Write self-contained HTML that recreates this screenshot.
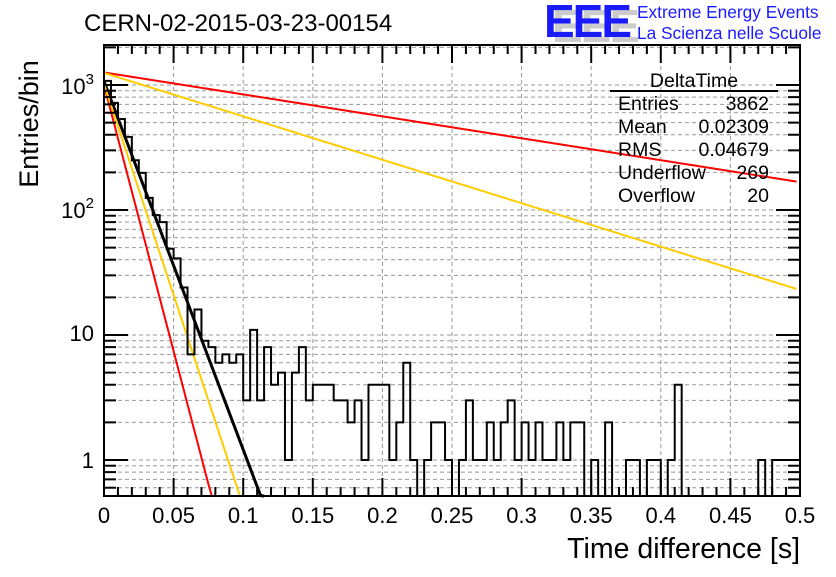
<!DOCTYPE html>
<html><head><meta charset="utf-8"><style>
body{margin:0;background:#fff;width:836px;height:572px;overflow:hidden}
svg text{font-family:"Liberation Sans",sans-serif}
</style></head><body>
<svg id="c" width="836" height="572" xmlns="http://www.w3.org/2000/svg"></svg>
<script>
const binWidth = 0.005;
const counts = [1080,720,535,385,250,198,125,91,80,49,41,24,7,16,9,8,6,7,6,7,3,11,3,8,4,
5,1,5,8,3,4,4,4,3,3,2,3,1,4,4,4,1,2,6,1,0,1,2,2,1,0,1,3,1,1,2,1,2,3,1,2,1,2,1,
1,2,1,2,2,0,1,0,2,0,0,1,1,0,1,1,0,1,4,0,0,0,0,0,0,0,0,0,0,0,1,0,1,1,1,1];
const fitAmp = [1070,1000,1020,1260,1250];
const fitTau = [0.01474,0.0102,0.01286,0.2475,0.125];
const fitColor = ['#000','#f00','#fc0','#f00','#fc0'];
const fitNames = ['fit-black','fit-red-steep','fit-yellow-steep','fit-red-shallow','fit-yellow-shallow'];
const xTicks = [0,0.05,0.1,0.15,0.2,0.25,0.3,0.35,0.4,0.45,0.5];
const xTickLabels = ['0','0.05','0.1','0.15','0.2','0.25','0.3','0.35','0.4','0.45','0.5'];

const L=104,R=800,T=45,B=496;
const sx=v=>L+(v/0.5)*(R-L);
const sy=v=>460-125*Math.log10(v);
const NS='http://www.w3.org/2000/svg';
const svg=document.getElementById('c');
function mk(tag,attrs,parent){const e=document.createElementNS(NS,tag);for(const k in attrs)e.setAttribute(k,attrs[k]);(parent||svg).appendChild(e);return e;}

const grid=mk('g',{stroke:'#999','stroke-dasharray':'4,3','stroke-width':1});


xTicks.slice(1,-1).forEach(v=>mk('line',{x1:sx(v),x2:sx(v),y1:T,y2:B},grid));
for(let d=-1;d<=3;d++)for(let m=1;m<10;m++){const v=m*Math.pow(10,d);const y=sy(v);if(y>T&&y<B)mk('line',{x1:L,x2:R,y1:y,y2:y},grid);}

fitAmp.forEach((A,i)=>{
  let pts=[];
  for(let t=0;t<=0.5;t+=0.0025){const v=A*Math.exp(-t/fitTau[i]);if(sy(v)>B){pts.push([sx(t),B]);break;}pts.push([sx(t),sy(v)]);}
  const p=mk('polyline',{points:pts.map(q=>q.join(',')).join(' '),fill:'none',stroke:fitColor[i],'stroke-width':i==0?3:2});
  
  
});

let d='';
counts.forEach((c,i)=>{const y=c>0?Math.min(sy(c),B):B;const x0=sx(i*binWidth),x1=sx((i+1)*binWidth);d+=(i==0?'M'+x0+','+y:'L'+x0+','+y)+'L'+x1+','+y;});
const h=mk('path',{d:d,fill:'none',stroke:'#000','stroke-width':2});



const fr=mk('rect',{x:L,y:T,width:R-L,height:B-T,fill:'none',stroke:'#000','stroke-width':2});


const tk=mk('g',{stroke:'#000','stroke-width':2});


for(let i=0;i<=50;i++){const x=sx(i*0.01);const len=(i%5==0)?18:9;mk('line',{x1:x,x2:x,y1:B,y2:B-len},tk);mk('line',{x1:x,x2:x,y1:T,y2:T+len},tk);}
for(let dd=-1;dd<=3;dd++)for(let m=1;m<10;m++){const v=m*Math.pow(10,dd);const y=sy(v);if(y>T&&y<B){const len=m==1?24:12;mk('line',{x1:L,x2:L+len,y1:y,y2:y},tk);mk('line',{x1:R,x2:R-len,y1:y,y2:y},tk);}}
xTicks.forEach((v,i)=>{const t=mk('text',{x:sx(v),y:523,'font-size':22,'text-anchor':'middle'});t.textContent=xTickLabels[i];

});
</script>
<svg width="836" height="572" style="position:absolute;left:0;top:0">
<text x="94" y="94" font-size="22" text-anchor="end">10<tspan dy="-10" font-size="15">3</tspan></text>
<text x="94" y="218" font-size="22" text-anchor="end">10<tspan dy="-10" font-size="15">2</tspan></text>
<text x="94" y="341" font-size="22" text-anchor="end">10</text>
<text x="94" y="468" font-size="22" text-anchor="end">1</text>
<text x="0" y="0" font-size="27" text-anchor="middle" transform="translate(38,124) rotate(-90)">Entries/bin</text>
<text x="800" y="558" font-size="28.5" text-anchor="end">Time difference [s]</text>
<text x="84" y="31" font-size="24">CERN-02-2015-03-23-00154</text>
<text x="552" y="42" font-size="46" fill="#ccc" font-weight="bold" style="letter-spacing:-2px">EEE</text>
<text x="544" y="37" font-size="46" fill="#1a1aff" font-weight="bold" style="letter-spacing:-2px">EEE</text>
<text x="637" y="18" font-size="17.3" fill="#1a1aff">Extreme Energy Events</text>
<text x="637" y="39" font-size="17.3" fill="#1a1aff">La Scienza nelle Scuole</text>
<g font-size="19.5">
<text x="694" y="87" text-anchor="middle">DeltaTime</text>
<line x1="610" x2="778" y1="91" y2="91" stroke="#000" stroke-width="2"/>
<text x="618" y="110">Entries</text><text x="769" y="110" text-anchor="end">3862</text>
<text x="618" y="133">Mean</text><text x="769" y="133" text-anchor="end">0.02309</text>
<text x="618" y="156">RMS</text><text x="769" y="156" text-anchor="end">0.04679</text>
<text x="618" y="179">Underflow</text><text x="769" y="179" text-anchor="end">269</text>
<text x="618" y="202">Overflow</text><text x="769" y="202" text-anchor="end">20</text>
</g>
</svg>
</body></html>
